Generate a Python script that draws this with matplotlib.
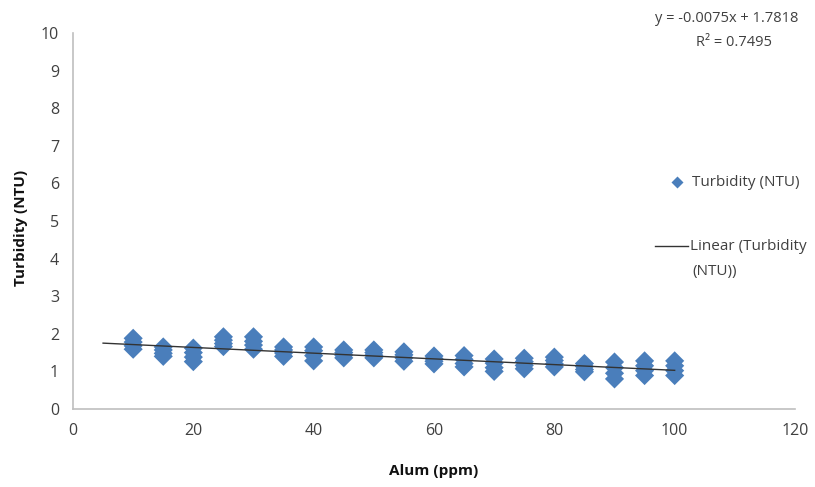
import matplotlib
matplotlib.use("Agg")
import matplotlib.pyplot as plt
from matplotlib.lines import Line2D
import numpy as np

plt.rcParams['font.family'] = ['Open Sans', 'DejaVu Sans']

alum = [10, 15, 20, 25, 30, 35, 40, 45, 50, 55, 60, 65, 70, 75, 80, 85, 90, 95, 100]
rep1 = [1.88, 1.65, 1.62, 1.92, 1.92, 1.65, 1.65, 1.57, 1.57, 1.52, 1.41, 1.42, 1.33, 1.35, 1.38, 1.21, 1.25, 1.28, 1.28]
rep2 = [1.78, 1.57, 1.50, 1.83, 1.80, 1.57, 1.55, 1.50, 1.50, 1.44, 1.34, 1.32, 1.22, 1.26, 1.29, 1.13, 1.10, 1.15, 1.15]
rep3 = [1.68, 1.48, 1.38, 1.74, 1.70, 1.49, 1.42, 1.43, 1.43, 1.36, 1.27, 1.21, 1.10, 1.16, 1.20, 1.05, 0.95, 1.02, 1.02]
rep4 = [1.59, 1.40, 1.26, 1.66, 1.59, 1.40, 1.28, 1.36, 1.36, 1.27, 1.20, 1.12, 1.00, 1.07, 1.12, 0.99, 0.80, 0.89, 0.89]
eq_line1 = "y = -0.0075x + 1.7818"
eq_line2 = "R² = 0.7495"

x_all = np.array(alum * 4, dtype=float)
y_all = np.array(rep1 + rep2 + rep3 + rep4)

fig = plt.figure(figsize=(8.15, 4.87), dpi=100)
ax = fig.add_axes([73/815, (487-409)/487, (795-73)/815, (409-33)/487])

blue = '#4a7ebb'
ax.scatter(x_all, y_all, marker='D', s=95, color=blue, edgecolors='none', zorder=3)

slope, intercept = np.polyfit(x_all, y_all, 1)
xt = np.array([5.0, 100.0])
ax.plot(xt, slope * xt + intercept, color='#333333', lw=1.0, zorder=4)

ax.set_xlim(0, 120)
ax.set_ylim(0, 10)
ax.set_xticks(range(0, 121, 20))
ax.set_yticks(range(0, 11, 1))
for s in ['top', 'right']:
    ax.spines[s].set_visible(False)
for s in ['left', 'bottom']:
    ax.spines[s].set_color('#bfbfbf')
    ax.spines[s].set_linewidth(1.2)
ax.tick_params(length=0, labelsize=11.5, labelcolor='#404040', pad=10)
ax.set_xlabel('Alum (ppm)', fontsize=11, fontweight='bold', color='#111111', labelpad=18)

fig.text(21/815, 1 - 228/487, 'Turbidity (NTU)', rotation=90, fontsize=11, fontweight='bold',
         color='#111111', ha='center', va='center')

fig.text(727/815, 1 - 19/487, eq_line1, ha='center', va='center', fontsize=10.5, color='#404040')
fig.text(734/815, 1 - 43/487, eq_line2, ha='center', va='center', fontsize=10.5, color='#404040')

# Legend
fig.add_artist(Line2D([677/815], [1 - 182/487], marker='D', markersize=6.5, color=blue,
                      markeredgecolor='none', transform=fig.transFigure))
fig.text(692/815, 1 - 182/487, 'Turbidity (NTU)', fontsize=11, color='#404040', va='center')
fig.add_artist(Line2D([655/815, 688/815], [1 - 246/487] * 2, color='#333333', lw=1.0,
                      transform=fig.transFigure))
fig.text(690/815, 1 - 246/487, 'Linear (Turbidity', fontsize=11, color='#404040', va='center')
fig.text(692/815, 1 - 272/487, '(NTU))', fontsize=11, color='#404040', va='center')

fig.savefig('out.png', dpi=100)
